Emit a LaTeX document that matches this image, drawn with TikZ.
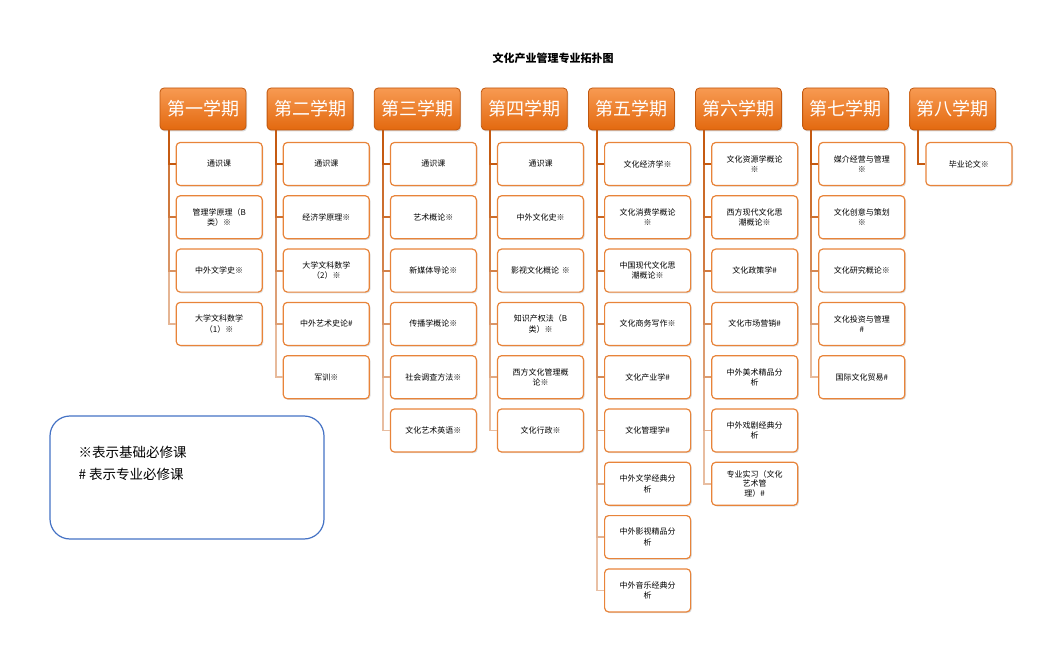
\documentclass[tikz,border=0pt]{standalone}
\usepackage{fontspec}
\setmainfont{Noto Sans CJK SC}
\usetikzlibrary{positioning,shadows}

\definecolor{semtop}{HTML}{F79A52}
\definecolor{sembot}{HTML}{E3690F}
\definecolor{semedge}{HTML}{C0570E}
\definecolor{cedge}{HTML}{E8843A}
\definecolor{trunk}{HTML}{C55A11}
\definecolor{keyblue}{HTML}{4472C4}

\tikzset{br/.style={line width=1.8pt, draw=trunk!#1}}

\begin{document}
\begin{tikzpicture}[x=1pt, y=-1pt, node distance=9.1pt,
  sem/.style={rounded corners=4pt, top color=semtop, bottom color=sembot,
              draw=semedge, line width=0.8pt, minimum width=86pt, minimum height=42pt,
              inner sep=0pt, text=white, font=\fontsize{18}{20}\selectfont,
              drop shadow={opacity=0.3, shadow xshift=1pt, shadow yshift=-1.5pt}},
  course/.style={draw=cedge, line width=1.2pt, rounded corners=4pt, fill=white,
                 minimum width=86pt, minimum height=43pt, text width=78pt,
                 inner sep=2pt, align=center, font=\fontsize{8}{10.5}\selectfont,
                 drop shadow={opacity=0.25, shadow xshift=1.2pt, shadow yshift=-1.2pt}},
  first/.style={course, anchor=north west},
  keybox/.style={draw=keyblue, line width=1.2pt, rounded corners=20pt,
                 minimum width=274pt, minimum height=123pt},
  keytext/.style={align=left, inner sep=0pt, font=\fontsize{13.5}{22}\selectfont}]
\useasboundingbox (0,0) rectangle (1047,655);

\node[font=\bfseries\fontsize{11}{13}\selectfont] (title) at (553,58) {文化产业管理专业拓扑图};

% semester headers
\node[sem] (h1) at (203,109) {第一学期};
\node[sem, right=20.3pt of h1] (h2) {第二学期};
\node[sem, right=20.3pt of h2] (h3) {第三学期};
\node[sem, right=20.3pt of h3] (h4) {第四学期};
\node[sem, right=20.3pt of h4] (h5) {第五学期};
\node[sem, right=20.3pt of h5] (h6) {第六学期};
\node[sem, right=20.3pt of h6] (h7) {第七学期};
\node[sem, right=20.3pt of h7] (h8) {第八学期};

% semester 1
\node[first] (c1a) at ([xshift=16pt, yshift=-11.5pt]h1.south west) {通识课};
\node[course, below=of c1a] (c1b) {管理学原理（B\\类）※};
\node[course, below=of c1b] (c1c) {中外文学史※};
\node[course, below=of c1c] (c1d) {大学文科数学\\（1）※};

% semester 2
\node[first] (c2a) at ([xshift=16pt, yshift=-11.5pt]h2.south west) {通识课};
\node[course, below=of c2a] (c2b) {经济学原理※};
\node[course, below=of c2b] (c2c) {大学文科数学\\（2）※};
\node[course, below=of c2c] (c2d) {中外艺术史论\#};
\node[course, below=of c2d] (c2e) {军训※};

% semester 3
\node[first] (c3a) at ([xshift=16pt, yshift=-11.5pt]h3.south west) {通识课};
\node[course, below=of c3a] (c3b) {艺术概论※};
\node[course, below=of c3b] (c3c) {新媒体导论※};
\node[course, below=of c3c] (c3d) {传播学概论※};
\node[course, below=of c3d] (c3e) {社会调查方法※};
\node[course, below=of c3e] (c3f) {文化艺术英语※};

% semester 4
\node[first] (c4a) at ([xshift=16pt, yshift=-11.5pt]h4.south west) {通识课};
\node[course, below=of c4a] (c4b) {中外文化史※};
\node[course, below=of c4b] (c4c) {影视文化概论 ※};
\node[course, below=of c4c] (c4d) {知识产权法（B\\类）※};
\node[course, below=of c4d] (c4e) {西方文化管理概\\论※};
\node[course, below=of c4e] (c4f) {文化行政※};

% semester 5
\node[first] (c5a) at ([xshift=16pt, yshift=-11.5pt]h5.south west) {文化经济学※};
\node[course, below=of c5a] (c5b) {文化消费学概论\\※};
\node[course, below=of c5b] (c5c) {中国现代文化思\\潮概论※};
\node[course, below=of c5c] (c5d) {文化商务写作※};
\node[course, below=of c5d] (c5e) {文化产业学\#};
\node[course, below=of c5e] (c5f) {文化管理学\#};
\node[course, below=of c5f] (c5g) {中外文学经典分\\析};
\node[course, below=of c5g] (c5h) {中外影视精品分\\析};
\node[course, below=of c5h] (c5i) {中外音乐经典分\\析};

% semester 6
\node[first] (c6a) at ([xshift=16pt, yshift=-11.5pt]h6.south west) {文化资源学概论\\※};
\node[course, below=of c6a] (c6b) {西方现代文化思\\潮概论※};
\node[course, below=of c6b] (c6c) {文化政策学\#};
\node[course, below=of c6c] (c6d) {文化市场营销\#};
\node[course, below=of c6d] (c6e) {中外美术精品分\\析};
\node[course, below=of c6e] (c6f) {中外戏剧经典分\\析};
\node[course, below=of c6f, font=\fontsize{8}{9.5}\selectfont] (c6g) {专业实习（文化\\艺术管\\理）\#};

% semester 7
\node[first] (c7a) at ([xshift=16pt, yshift=-11.5pt]h7.south west) {媒介经营与管理\\※};
\node[course, below=of c7a] (c7b) {文化创意与策划\\※};
\node[course, below=of c7b] (c7c) {文化研究概论※};
\node[course, below=of c7c] (c7d) {文化投资与管理\\\#};
\node[course, below=of c7d] (c7e) {国际文化贸易\#};

% semester 8
\node[first] (c8a) at ([xshift=16pt, yshift=-11.5pt]h8.south west) {毕业论文※};

% connectors, lightest (longest) first
\draw[br=45] ([xshift=9pt]h1.south west) |- (c1d.west);
\draw[br=65] ([xshift=9pt]h1.south west) |- (c1c.west);
\draw[br=82] ([xshift=9pt]h1.south west) |- (c1b.west);
\draw[br=100] ([xshift=9pt]h1.south west) |- (c1a.west);

\draw[br=42] ([xshift=9pt]h2.south west) |- (c2e.west);
\draw[br=58] ([xshift=9pt]h2.south west) |- (c2d.west);
\draw[br=72] ([xshift=9pt]h2.south west) |- (c2c.west);
\draw[br=86] ([xshift=9pt]h2.south west) |- (c2b.west);
\draw[br=100] ([xshift=9pt]h2.south west) |- (c2a.west);

\draw[br=40] ([xshift=9pt]h3.south west) |- (c3f.west);
\draw[br=52] ([xshift=9pt]h3.south west) |- (c3e.west);
\draw[br=64] ([xshift=9pt]h3.south west) |- (c3d.west);
\draw[br=76] ([xshift=9pt]h3.south west) |- (c3c.west);
\draw[br=88] ([xshift=9pt]h3.south west) |- (c3b.west);
\draw[br=100] ([xshift=9pt]h3.south west) |- (c3a.west);

\draw[br=40] ([xshift=9pt]h4.south west) |- (c4f.west);
\draw[br=52] ([xshift=9pt]h4.south west) |- (c4e.west);
\draw[br=64] ([xshift=9pt]h4.south west) |- (c4d.west);
\draw[br=76] ([xshift=9pt]h4.south west) |- (c4c.west);
\draw[br=88] ([xshift=9pt]h4.south west) |- (c4b.west);
\draw[br=100] ([xshift=9pt]h4.south west) |- (c4a.west);

\draw[br=38] ([xshift=9pt]h5.south west) |- (c5i.west);
\draw[br=46] ([xshift=9pt]h5.south west) |- (c5h.west);
\draw[br=54] ([xshift=9pt]h5.south west) |- (c5g.west);
\draw[br=62] ([xshift=9pt]h5.south west) |- (c5f.west);
\draw[br=70] ([xshift=9pt]h5.south west) |- (c5e.west);
\draw[br=78] ([xshift=9pt]h5.south west) |- (c5d.west);
\draw[br=85] ([xshift=9pt]h5.south west) |- (c5c.west);
\draw[br=92] ([xshift=9pt]h5.south west) |- (c5b.west);
\draw[br=100] ([xshift=9pt]h5.south west) |- (c5a.west);

\draw[br=40] ([xshift=9pt]h6.south west) |- (c6g.west);
\draw[br=50] ([xshift=9pt]h6.south west) |- (c6f.west);
\draw[br=60] ([xshift=9pt]h6.south west) |- (c6e.west);
\draw[br=70] ([xshift=9pt]h6.south west) |- (c6d.west);
\draw[br=80] ([xshift=9pt]h6.south west) |- (c6c.west);
\draw[br=90] ([xshift=9pt]h6.south west) |- (c6b.west);
\draw[br=100] ([xshift=9pt]h6.south west) |- (c6a.west);

\draw[br=42] ([xshift=9pt]h7.south west) |- (c7e.west);
\draw[br=58] ([xshift=9pt]h7.south west) |- (c7d.west);
\draw[br=72] ([xshift=9pt]h7.south west) |- (c7c.west);
\draw[br=86] ([xshift=9pt]h7.south west) |- (c7b.west);
\draw[br=100] ([xshift=9pt]h7.south west) |- (c7a.west);

\draw[br=100] ([xshift=9pt]h8.south west) |- (c8a.west);

% legend
\node[keybox] (key) at (187,477.5) {};
\node[keytext, anchor=north west] (keyt) at ([xshift=29pt, yshift=-31pt]key.north west)
  {※表示基础必修课\\\# 表示专业必修课};
\end{tikzpicture}
\end{document}
